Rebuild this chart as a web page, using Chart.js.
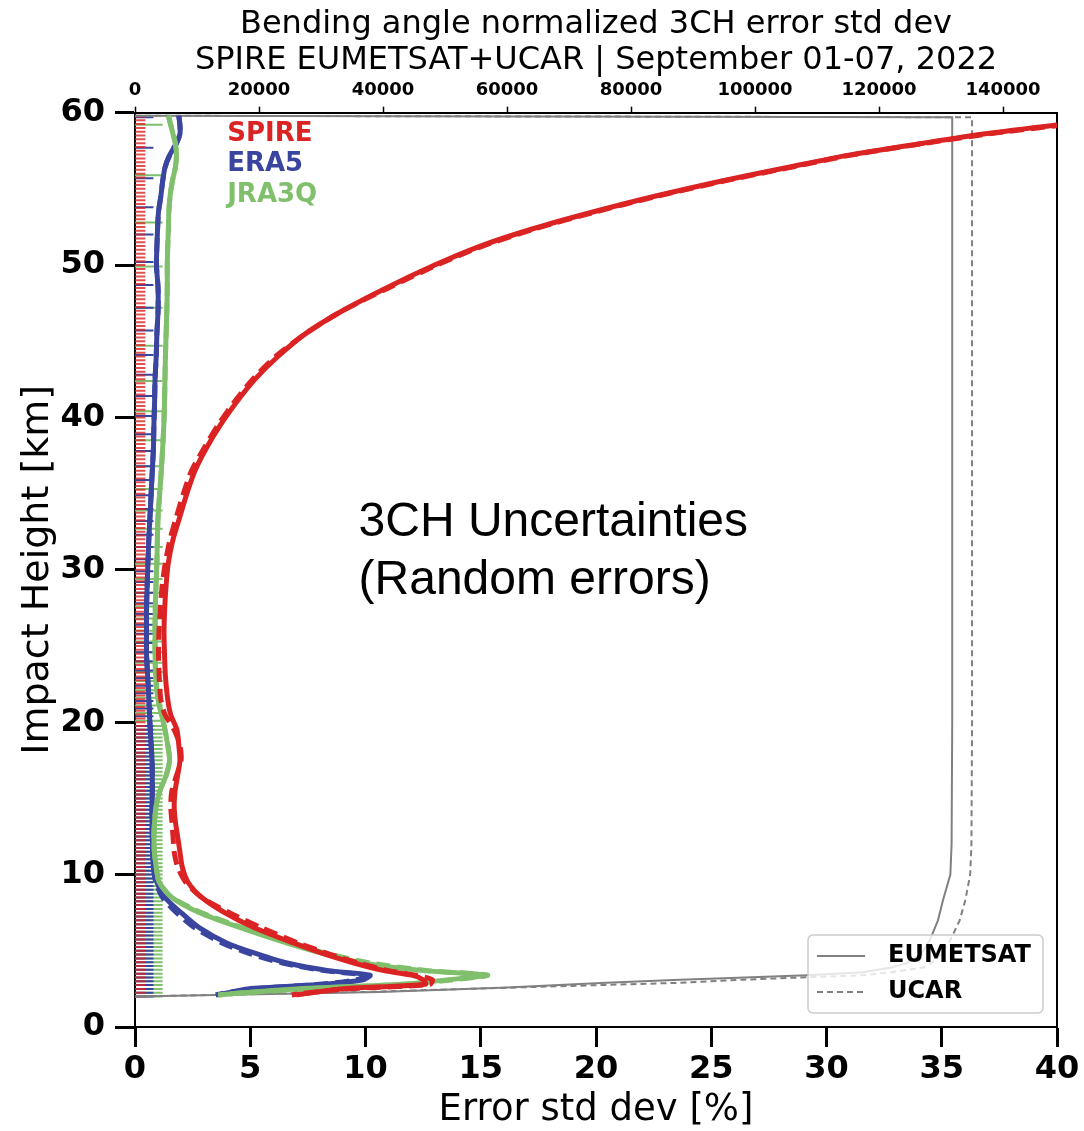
<!DOCTYPE html>
<html>
<head>
<meta charset="utf-8">
<title>Bending angle normalized 3CH error std dev</title>
<script src="https://cdn.jsdelivr.net/npm/chart.js@4"></script>
<style>
  html, body { margin: 0; padding: 0; background: #fff; }
  canvas { display: block; }
</style>
</head>
<body>
<canvas id="chart" width="1084" height="1131"></canvas>
<script>
// impact height levels (km) for the error profiles
const heights = [59.8, 59.2, 58.6, 58.0, 57.2, 56.4, 55.5, 54.5, 53.5, 52.4, 51.2, 50.0, 48.5, 47.0,
  45.5, 44.0, 42.5, 41.0, 39.5, 38.0, 36.5, 35.0, 33.5, 32.0, 30.5, 29.0, 27.5, 26.0, 24.5, 23.0,
  21.5, 20.5, 19.5, 18.5, 17.5, 16.5, 15.5, 14.5, 13.5, 12.5, 11.5, 10.5, 9.5, 8.5, 7.5, 6.5,
  5.5, 4.8, 4.2, 3.7, 3.4, 3.1, 2.8, 2.5, 2.2, 2.1];

// error std dev [%] — solid = EUMETSAT, dashed = UCAR
const spireEumetsat = [43.5, 40.0, 36.8, 34.2, 30.9, 28.3, 25.4, 22.5, 19.9, 17.3, 14.9, 13.0, 10.9, 9.0,
  7.4, 6.2, 5.2, 4.4, 3.7, 3.1, 2.6, 2.25, 1.95, 1.65, 1.45, 1.35, 1.29, 1.26, 1.28, 1.32,
  1.42, 1.55, 1.82, 1.9, 1.95, 1.85, 1.74, 1.7, 1.75, 1.85, 1.95, 2.05, 2.3, 2.9, 3.9, 5.2,
  6.9, 8.2, 9.5, 10.8, 12.0, 12.5, 12.6, 8.9, 7.4, 7.0];
const spireUcar = [44.0, 40.3, 37.0, 34.3, 31.0, 28.4, 25.5, 22.6, 20.0, 17.4, 15.0, 13.1, 11.0, 9.0,
  7.4, 6.1, 5.1, 4.3, 3.6, 3.0, 2.45, 2.1, 1.8, 1.52, 1.32, 1.18, 1.1, 1.04, 1.02, 1.05,
  1.12, 1.3, 1.7, 1.95, 2.0, 1.8, 1.6, 1.55, 1.6, 1.65, 1.7, 1.85, 2.2, 2.9, 4.1, 5.5,
  7.1, 8.4, 9.7, 11.0, 12.2, 12.9, 12.8, 9.2, 7.2, 6.8];
const era5Eumetsat = [1.9, 1.95, 1.95, 1.8, 1.5, 1.3, 1.2, 1.12, 1.02, 0.98, 0.95, 0.93, 1.0, 1.0,
  0.95, 0.92, 0.87, 0.85, 0.82, 0.8, 0.75, 0.7, 0.65, 0.6, 0.56, 0.53, 0.5, 0.5, 0.5, 0.55,
  0.6, 0.63, 0.66, 0.7, 0.74, 0.75, 0.75, 0.74, 0.74, 0.75, 0.77, 0.8, 0.95, 1.3, 2.0, 2.8,
  4.0, 5.3, 6.6, 8.4, 10.2, 9.9, 8.2, 4.9, 3.9, 3.6];
const era5Ucar = [1.9, 1.95, 1.95, 1.8, 1.5, 1.3, 1.2, 1.12, 1.02, 0.98, 0.95, 0.93, 1.0, 1.0,
  0.95, 0.92, 0.87, 0.85, 0.82, 0.8, 0.75, 0.7, 0.65, 0.6, 0.56, 0.53, 0.5, 0.5, 0.5, 0.55,
  0.6, 0.63, 0.66, 0.7, 0.74, 0.75, 0.75, 0.74, 0.74, 0.75, 0.77, 0.8, 0.9, 1.2, 1.8, 2.6,
  3.8, 5.0, 6.4, 8.2, 10.0, 9.6, 8.0, 5.1, 3.8, 3.5];
const jra3qEumetsat = [1.45, 1.55, 1.65, 1.75, 1.8, 1.75, 1.62, 1.52, 1.47, 1.45, 1.42, 1.4, 1.4, 1.38,
  1.35, 1.32, 1.3, 1.28, 1.25, 1.2, 1.14, 1.07, 1.0, 0.97, 0.95, 0.91, 0.88, 0.87, 0.87, 0.9,
  1.0, 1.15, 1.3, 1.42, 1.5, 1.35, 1.08, 0.92, 0.85, 0.82, 0.84, 0.92, 1.05, 1.6, 2.8, 4.6,
  6.6, 8.2, 9.9, 12.5, 15.2, 13.6, 11.6, 7.0, 4.3, 3.6];
const jra3qUcar = [1.45, 1.55, 1.65, 1.75, 1.8, 1.75, 1.62, 1.52, 1.47, 1.45, 1.42, 1.4, 1.4, 1.38,
  1.35, 1.32, 1.3, 1.28, 1.25, 1.2, 1.14, 1.07, 1.0, 0.97, 0.95, 0.91, 0.88, 0.87, 0.87, 0.9,
  1.0, 1.15, 1.3, 1.42, 1.5, 1.35, 1.08, 0.92, 0.85, 0.82, 0.84, 0.92, 1.05, 1.6, 2.9, 4.7,
  6.8, 8.4, 10.2, 12.7, 15.3, 13.8, 11.6, 7.4, 4.3, 3.7];

// number of profiles per level (top axis)
const countHeights = [59.8, 59.7, 50, 40, 30, 20, 12, 10, 8.3, 7, 5.7, 4.8, 4.2, 3.9, 3.6, 3.4,
  3.2, 3.1, 2.9, 2.6, 2.3, 2.0];
const eumetsatCount = [0, 131800, 131800, 131800, 131800, 131800, 131700, 131500, 130300, 129500,
  128200, 126800, 124500, 122000, 117400, 108400, 95000, 87900, 76000, 60000, 39500, 0];
const ucarCount = [0, 135000, 135000, 135000, 135000, 135000, 134900, 134700, 133900, 133000,
  131500, 130000, 128500, 127100, 122000, 117400, 104000, 98000, 87900, 62000, 37000, 0];
const countTicks = [0, 20000, 40000, 60000, 80000, 100000, 120000, 140000];

// small level markers along the left edge
const blueTickLevels = [59.7, 57.7, 55.7, 53.8, 52.0, 50.2, 48.7, 47.2, 45.7, 44.1, 42.8, 41.4,
  40.1, 38.9, 37.8, 36.8, 35.9, 34.9, 34.0, 33.2, 32.3, 31.5, 30.7, 29.9, 29.2, 28.5, 27.8,
  27.1, 26.4, 25.8, 25.2, 24.6, 24.0, 23.4, 22.9, 22.4, 21.9, 21.4, 20.9, 20.4];
const greenTickLevels = [59.2, 55.9, 52.8, 49.9, 47.2, 44.7, 42.4, 40.4, 38.5, 36.8, 35.3, 33.9,
  32.7, 31.5, 30.4, 29.4, 28.5, 27.6, 26.8, 26.0, 25.3, 24.6, 23.9, 23.3, 22.7, 22.1, 21.6,
  21.1, 20.6, 20.1];
const lowLevels = [];
for (let h = 2.0; h < 20; h += 0.25) lowLevels.push(+h.toFixed(2));
const allLevels = [];
for (let h = 2.0; h < 60; h += 0.25) allLevels.push(+h.toFixed(2));
const tickLength = { red: 0.45, blue: 0.8, green: 1.2 };

const seriesNames = ['SPIRE', 'ERA5', 'JRA3Q'];
const RED = '#dc2323';
const BLUE = '#3a45a0';
const GREEN = '#80c06c';
const GRAY = '#808080';

function profile(values) {
  return heights.map((h, i) => ({ x: values[i], y: h }));
}

function countProfile(values) {
  return countHeights.map((h, i) => ({ x: values[i], y: h }));
}

function tickData(levels, len) {
  const pts = [];
  levels.forEach(h => {
    pts.push({ x: 0, y: h }, { x: len, y: h }, { x: null, y: null });
  });
  return pts;
}

function curve(label, values, color, dashed, order) {
  return {
    label: label,
    data: profile(values),
    borderColor: color,
    borderWidth: 5,
    borderDash: dashed ? [14, 7] : [],
    pointRadius: 0,
    tension: 0.25,
    fill: false,
    order: order,
  };
}

function ticks(levels, len, color, order) {
  return {
    data: tickData(levels, len),
    borderColor: color,
    borderWidth: 2,
    pointRadius: 0,
    spanGaps: false,
    order: order,
  };
}

// texts and legend drawn on top of the plot
const annotations = {
  id: 'annotations',
  afterDraw(chart) {
    const { ctx, chartArea, scales: { x, y } } = chart;
    ctx.save();
    ctx.textBaseline = 'middle';
    ctx.textAlign = 'left';

    ctx.font = 'bold 26px "DejaVu Sans"';
    [RED, BLUE, GREEN].forEach((c, i) => {
      ctx.fillStyle = c;
      ctx.fillText(seriesNames[i], x.getPixelForValue(4.0), y.getPixelForValue(58.6 - 2 * i));
    });

    ctx.fillStyle = '#000';
    ctx.font = '48px "Liberation Sans"';
    ctx.fillText('3CH Uncertainties', x.getPixelForValue(9.7), y.getPixelForValue(33.1));
    ctx.fillText('(Random errors)', x.getPixelForValue(9.7), y.getPixelForValue(29.3));

    // legend box
    const bx = chartArea.right - 249, by = chartArea.bottom - 92, bw = 235, bh = 78;
    ctx.beginPath();
    ctx.roundRect(bx, by, bw, bh, 5);
    ctx.fillStyle = 'rgba(255,255,255,0.8)';
    ctx.fill();
    ctx.strokeStyle = '#cccccc';
    ctx.lineWidth = 1.5;
    ctx.stroke();

    ctx.strokeStyle = GRAY;
    ctx.lineWidth = 2;
    ctx.beginPath();
    ctx.moveTo(bx + 9, by + 21);
    ctx.lineTo(bx + 57, by + 21);
    ctx.stroke();
    ctx.setLineDash([6, 4]);
    ctx.beginPath();
    ctx.moveTo(bx + 9, by + 57);
    ctx.lineTo(bx + 57, by + 57);
    ctx.stroke();
    ctx.setLineDash([]);

    ctx.fillStyle = '#000';
    ctx.font = 'bold 24px "DejaVu Sans"';
    ctx.fillText('EUMETSAT', bx + 80, by + 21);
    ctx.fillText('UCAR', bx + 80, by + 57);
    ctx.restore();
  }
};

const tickFont = { family: 'DejaVu Sans', size: 32, weight: 'bold' };
const axisTicks = { drawOnChartArea: false, drawTicks: true, tickLength: 20, tickWidth: 3, tickColor: '#000' };
const spine = { display: true, color: '#000', width: 2 };

new Chart(document.getElementById('chart'), {
  type: 'line',
  data: {
    datasets: [
      curve('SPIRE EUMETSAT', spireEumetsat, RED, false, 1),
      curve('SPIRE UCAR', spireUcar, RED, true, 2),
      curve('JRA3Q EUMETSAT', jra3qEumetsat, GREEN, false, 3),
      curve('JRA3Q UCAR', jra3qUcar, GREEN, true, 4),
      curve('ERA5 EUMETSAT', era5Eumetsat, BLUE, false, 5),
      curve('ERA5 UCAR', era5Ucar, BLUE, true, 6),
      {
        label: 'EUMETSAT',
        data: countProfile(eumetsatCount),
        xAxisID: 'x2',
        borderColor: GRAY,
        borderWidth: 2,
        pointRadius: 0,
        tension: 0,
        order: 7,
      },
      {
        label: 'UCAR',
        data: countProfile(ucarCount),
        xAxisID: 'x2',
        borderColor: GRAY,
        borderWidth: 2,
        borderDash: [6, 4],
        pointRadius: 0,
        tension: 0,
        order: 8,
      },
      ticks(allLevels, tickLength.red, 'rgba(220,35,35,0.8)', 9),
      ticks(blueTickLevels.concat(lowLevels), tickLength.blue, BLUE, 10),
      ticks(greenTickLevels.concat(lowLevels), tickLength.green, GREEN, 11),
    ],
  },
  options: {
    responsive: false,
    animation: false,
    layout: { padding: 0 },
    plugins: {
      legend: { display: false },
      tooltip: { enabled: false },
      title: {
        display: true,
        fullSize: false,
        text: ['Bending angle normalized 3CH error std dev', 'SPIRE EUMETSAT+UCAR | September 01-07, 2022'],
        color: '#000',
        font: { family: 'DejaVu Sans', size: 32, weight: 'normal', lineHeight: 1.12 },
        padding: { top: 7, bottom: 0 },
      },
    },
    scales: {
      x: {
        type: 'linear',
        position: 'bottom',
        min: 0,
        max: 40,
        ticks: { stepSize: 5, color: '#000', font: tickFont, padding: 3, maxRotation: 0 },
        grid: axisTicks,
        border: spine,
        title: {
          display: true,
          text: 'Error std dev [%]',
          color: '#000',
          font: { family: 'DejaVu Sans', size: 37, lineHeight: 1.0 },
          padding: { top: 0, bottom: 2 },
        },
        afterFit(scale) { scale.height = 104; },
      },
      x2: {
        type: 'linear',
        position: 'top',
        min: 0,
        max: 148700,
        ticks: {
          color: '#000',
          font: { family: 'DejaVu Sans', size: 18, weight: 'bold' },
          padding: 6,
          maxRotation: 0,
          autoSkip: false,
          callback: v => String(v),
        },
        afterBuildTicks(axis) { axis.ticks = countTicks.map(v => ({ value: v })); },
        grid: { drawOnChartArea: false, drawTicks: true, tickLength: 6, tickWidth: 1.5, tickColor: '#000' },
        border: spine,
        afterFit(scale) { scale.height = 34; },
      },
      y: {
        type: 'linear',
        position: 'left',
        min: 0,
        max: 60,
        ticks: { stepSize: 10, color: '#000', font: tickFont, padding: 10 },
        grid: axisTicks,
        border: spine,
        title: {
          display: true,
          text: 'Impact Height [km]',
          color: '#000',
          font: { family: 'DejaVu Sans', size: 38 },
          padding: { top: 15, bottom: 0 },
        },
        afterFit(scale) { scale.width = 135; },
      },
      yr: {
        type: 'linear',
        position: 'right',
        display: true,
        min: 0,
        max: 60,
        ticks: { display: false },
        grid: { drawOnChartArea: false, drawTicks: false },
        border: spine,
        afterFit(scale) { scale.width = 27; },
      },
    },
  },
  plugins: [annotations],
});
</script>
</body>
</html>
